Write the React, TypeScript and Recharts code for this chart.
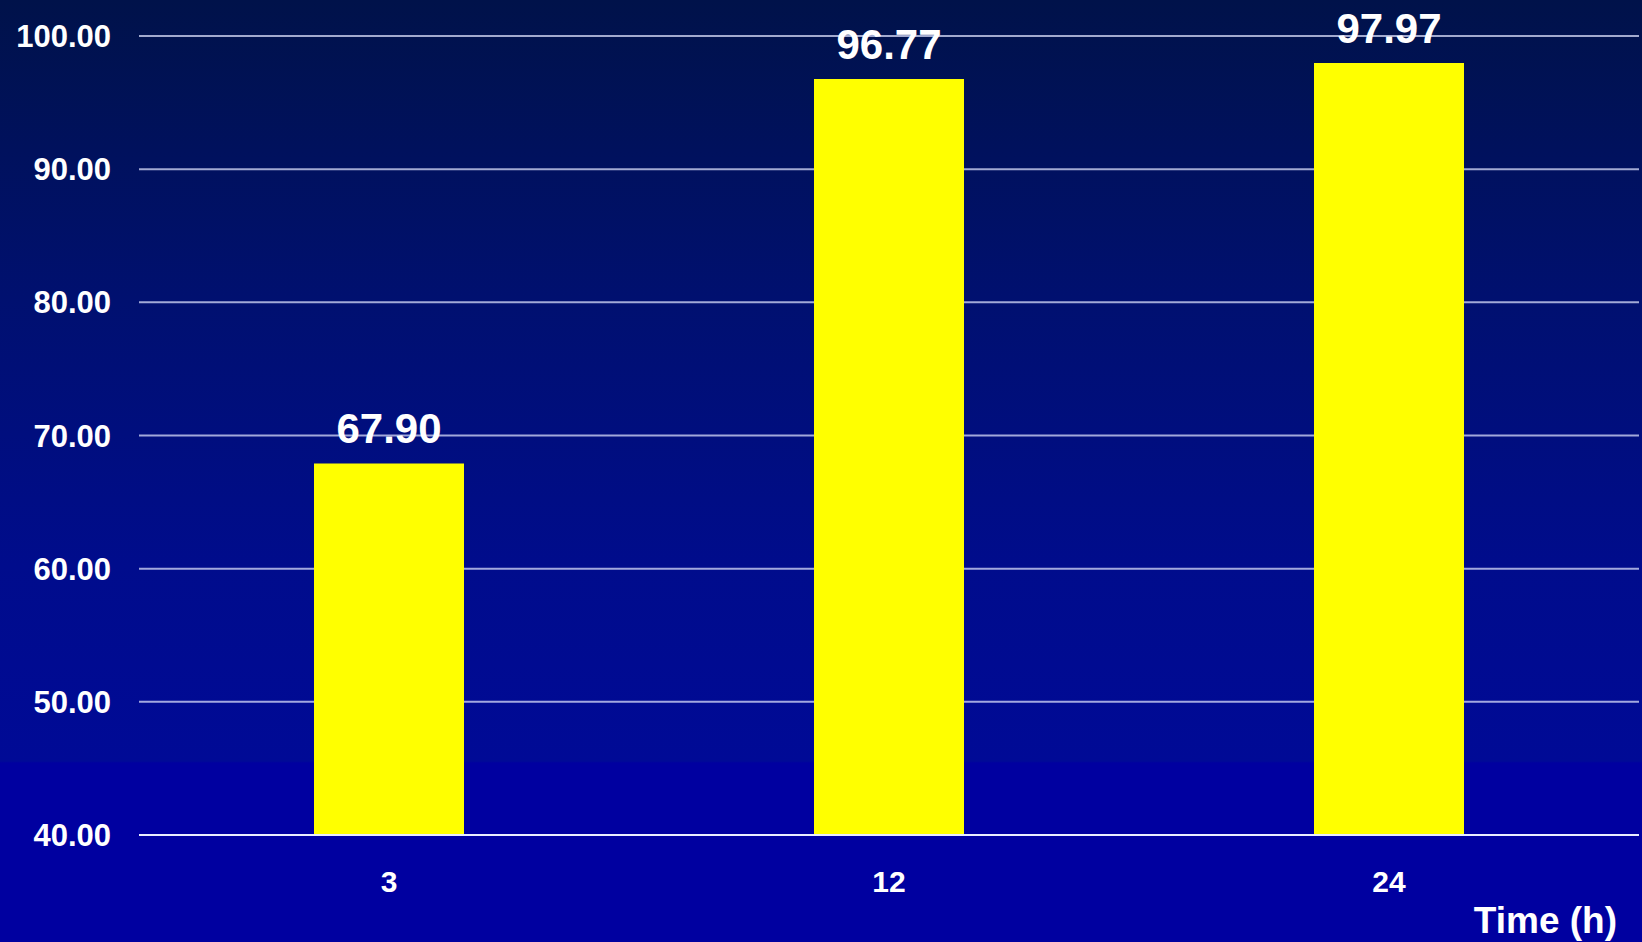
import { BarChart, Bar, XAxis, YAxis, CartesianGrid, LabelList, Label } from 'recharts'

const times = ['3', '12', '24']
const values = [67.9, 96.77, 97.97]
const yTicks = [40, 50, 60, 70, 80, 90, 100]

const chartData = times.map((t, i) => ({ time: t, value: values[i] }))

const FONT = '"Liberation Sans", Arial, sans-serif'

function TimeLabel(props: any) {
  const { viewBox } = props
  if (!viewBox) return null
  return (
    <text
      x={viewBox.x + viewBox.width - 22}
      y={viewBox.y + viewBox.height - 9}
      textAnchor="end"
      fill="#ffffff"
      fontSize={37}
      fontWeight="bold"
      fontFamily={FONT}
    >
      Time (h)
    </text>
  )
}

export default function App() {
  return (
    <div
      style={{
        position: 'fixed',
        left: 0,
        top: 0,
        width: 1642,
        height: 942,
        background: 'linear-gradient(to bottom, #00124a 0%, #001070 32%, #000c8c 60%, #000a96 80.8%, #0000a0 81%, #0000a0 100%)',
        fontFamily: FONT,
      }}
    >
      <BarChart
        width={1642}
        height={942}
        data={chartData}
        margin={{ top: 36, right: 3, bottom: 0, left: 0 }}
        barCategoryGap="35%"
      >
        <CartesianGrid vertical={false} stroke="#d8defa" strokeOpacity={0.75} strokeWidth={2} />
        <XAxis
          dataKey="time"
          height={107}
          axisLine={{ stroke: '#e8ecff', strokeWidth: 2 }}
          tickLine={false}
          tickSize={0}
          tickMargin={36}
          tick={{ fill: '#ffffff', fontSize: 30, fontWeight: 'bold', fontFamily: FONT }}
        >
          <Label content={<TimeLabel />} />
        </XAxis>
        <YAxis
          domain={[40, 100]}
          ticks={yTicks}
          width={139}
          axisLine={false}
          tickLine={false}
          tickSize={0}
          tickMargin={28}
          allowDataOverflow
          tickFormatter={(v) => Number(v).toFixed(2)}
          tick={{ fill: '#ffffff', fontSize: 31, fontWeight: 'bold', fontFamily: FONT }}
        />
        <Bar dataKey="value" fill="#ffff00" isAnimationActive={false}>
          <LabelList
            dataKey="value"
            position="top"
            offset={20}
            formatter={(v: any) => Number(v).toFixed(2)}
            fill="#ffffff"
            fontSize={42}
            fontWeight="bold"
            fontFamily={FONT}
          />
        </Bar>
      </BarChart>
    </div>
  )
}
